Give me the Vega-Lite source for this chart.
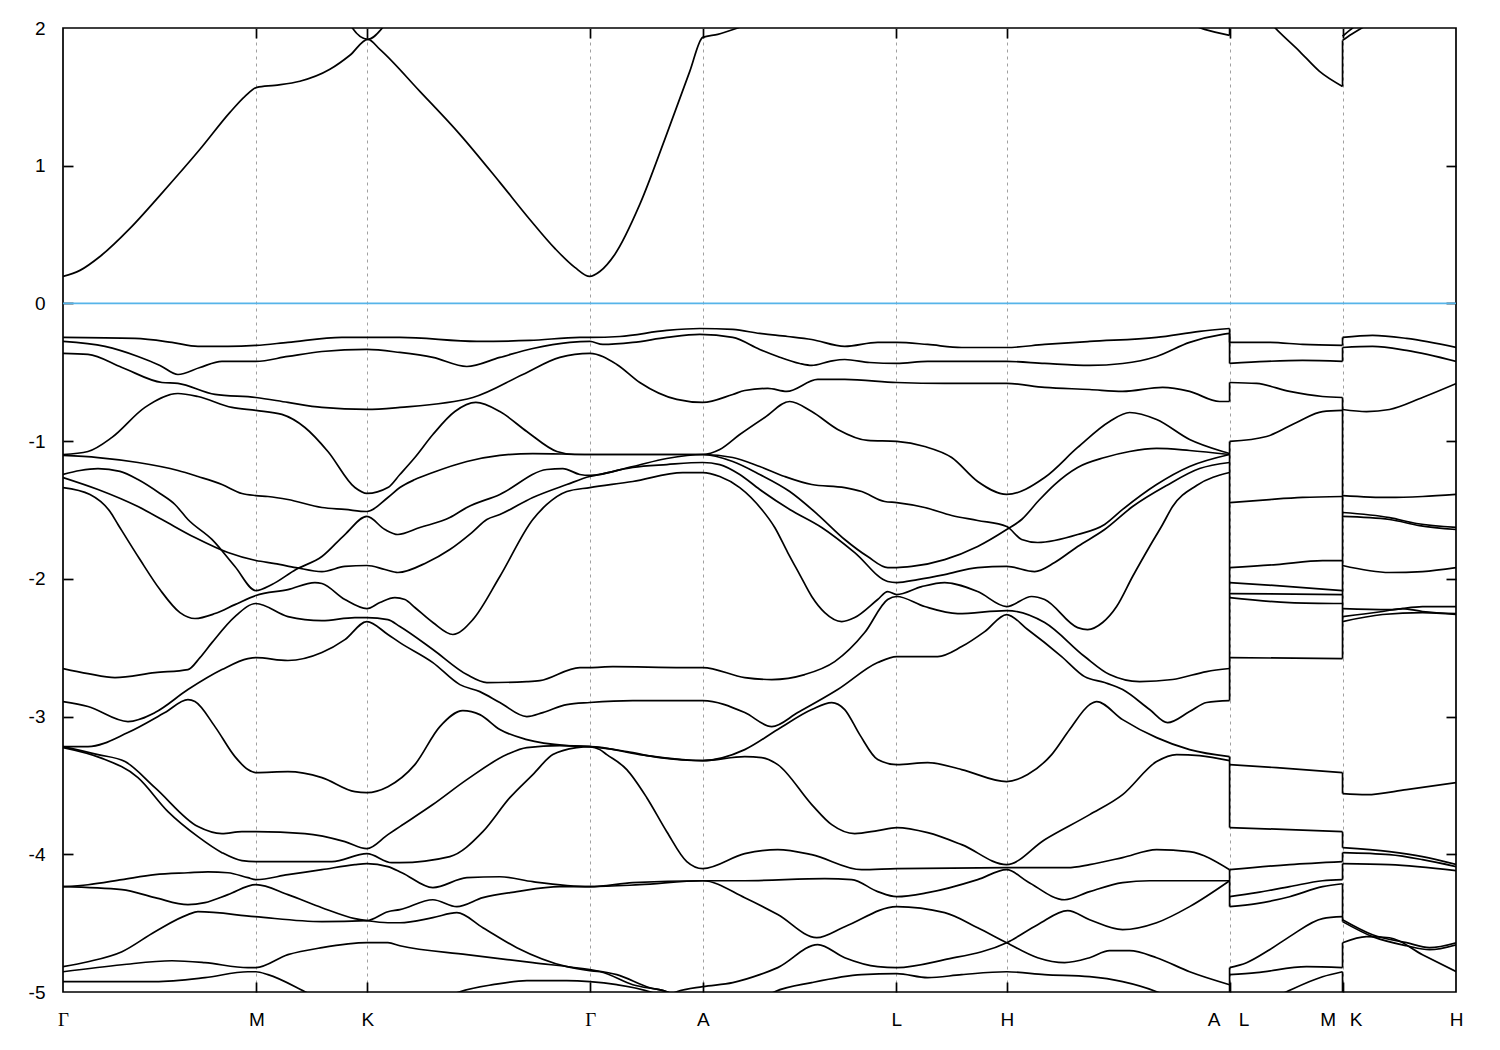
{
"$schema":"https://vega.github.io/schema/vega-lite/v6.json",
"width":1393,"height":964,
"autosize":{"type":"none"},
"padding":{"left":63,"top":28,"right":44,"bottom":58},
"background":"white",
"config":{"view":{"stroke":"#000000","strokeWidth":1.7}},
"datasets":{
"bands":[
{"b":"c1","k":0,"e":0.196},{"b":"c1","k":0.017,"e":0.240},{"b":"c1","k":0.037,"e":0.341},{"b":"c1","k":0.067,"e":0.545},{"b":"c1","k":0.097,"e":0.785},{"b":"c1","k":0.137,"e":1.119},{"b":"c1","k":0.167,"e":1.387},{"b":"c1","k":0.182,"e":1.504},{"b":"c1","k":0.194,"e":1.569},{"b":"c1","k":0.212,"e":1.584},{"b":"c1","k":0.237,"e":1.613},{"b":"c1","k":0.267,"e":1.700},{"b":"c1","k":0.287,"e":1.802},{"b":"c1","k":0.305,"e":1.918},{"b":"c1","k":0.317,"e":1.845},{"b":"c1","k":0.357,"e":1.540},{"b":"c1","k":0.397,"e":1.228},{"b":"c1","k":0.437,"e":0.879},{"b":"c1","k":0.467,"e":0.610},{"b":"c1","k":0.492,"e":0.400},{"b":"c1","k":0.512,"e":0.262},{"b":"c1","k":0.527,"e":0.196},{"b":"c1","k":0.537,"e":0.232},{"b":"c1","k":0.552,"e":0.356},{"b":"c1","k":0.577,"e":0.719},{"b":"c1","k":0.602,"e":1.191},{"b":"c1","k":0.627,"e":1.685},{"b":"c1","k":0.640,"e":1.932},{"b":"c1","k":0.655,"e":1.954},{"b":"c1","k":0.677,"e":2.005},{"b":"c1","k":0.737,"e":2.17},{"b":"c1","k":0.837,"e":2.35},{"b":"c1","k":0.937,"e":2.32},{"b":"c1","k":1.037,"e":2.21},{"b":"c1","k":1.117,"e":2.06},{"b":"c1","k":1.142,"e":1.99},{"b":"c1","k":1.167,"e":1.947},
{"b":"c2","k":0.282,"e":2.099},{"b":"c2","k":0.289,"e":2.005},{"b":"c2","k":0.305,"e":1.918},{"b":"c2","k":0.320,"e":2.005},{"b":"c2","k":0.329,"e":2.099},
{"b":"c3","k":1.167,"e":2.317},{"b":"c3","k":1.192,"e":2.172},{"b":"c3","k":1.212,"e":2.005},{"b":"c3","k":1.237,"e":1.831},{"b":"c3","k":1.257,"e":1.685},{"b":"c3","k":1.280,"e":1.576},
{"b":"c4","k":1.280,"e":1.910},{"b":"c4","k":1.289,"e":1.954},{"b":"c4","k":1.302,"e":2.012},{"b":"c4","k":1.327,"e":2.136},
{"b":"c5","k":1.280,"e":1.940},{"b":"c5","k":1.287,"e":1.983},{"b":"c5","k":1.295,"e":2.027},{"b":"c5","k":1.317,"e":2.136},
{"b":"g1","k":0,"e":-0.247},{"b":"g1","k":0.072,"e":-0.254},{"b":"g1","k":0.109,"e":-0.283},{"b":"g1","k":0.135,"e":-0.312},{"b":"g1","k":0.165,"e":-0.312},{"b":"g1","k":0.193,"e":-0.305},{"b":"g1","k":0.225,"e":-0.283},{"b":"g1","k":0.279,"e":-0.247},{"b":"g1","k":0.304,"e":-0.247},{"b":"g1","k":0.337,"e":-0.247},{"b":"g1","k":0.414,"e":-0.276},{"b":"g1","k":0.467,"e":-0.269},{"b":"g1","k":0.517,"e":-0.247},{"b":"g1","k":0.527,"e":-0.247},{"b":"g1","k":0.557,"e":-0.240},{"b":"g1","k":0.604,"e":-0.196},{"b":"g1","k":0.637,"e":-0.182},{"b":"g1","k":0.670,"e":-0.189},{"b":"g1","k":0.697,"e":-0.218},{"b":"g1","k":0.725,"e":-0.240},{"b":"g1","k":0.749,"e":-0.262},{"b":"g1","k":0.782,"e":-0.312},{"b":"g1","k":0.815,"e":-0.283},{"b":"g1","k":0.834,"e":-0.283},{"b":"g1","k":0.865,"e":-0.298},{"b":"g1","k":0.899,"e":-0.320},{"b":"g1","k":0.944,"e":-0.320},{"b":"g1","k":0.982,"e":-0.298},{"b":"g1","k":1.027,"e":-0.276},{"b":"g1","k":1.094,"e":-0.247},{"b":"g1","k":1.137,"e":-0.203},{"b":"g1","k":1.167,"e":-0.182},
{"b":"g2","k":0,"e":-0.276},{"b":"g2","k":0.042,"e":-0.312},{"b":"g2","k":0.075,"e":-0.385},{"b":"g2","k":0.097,"e":-0.450},{"b":"g2","k":0.115,"e":-0.516},{"b":"g2","k":0.137,"e":-0.465},{"b":"g2","k":0.159,"e":-0.421},{"b":"g2","k":0.193,"e":-0.421},{"b":"g2","k":0.225,"e":-0.385},{"b":"g2","k":0.259,"e":-0.349},{"b":"g2","k":0.304,"e":-0.334},{"b":"g2","k":0.337,"e":-0.356},{"b":"g2","k":0.370,"e":-0.392},{"b":"g2","k":0.404,"e":-0.458},{"b":"g2","k":0.437,"e":-0.392},{"b":"g2","k":0.470,"e":-0.327},{"b":"g2","k":0.507,"e":-0.283},{"b":"g2","k":0.527,"e":-0.276},{"b":"g2","k":0.540,"e":-0.298},{"b":"g2","k":0.570,"e":-0.283},{"b":"g2","k":0.604,"e":-0.247},{"b":"g2","k":0.637,"e":-0.225},{"b":"g2","k":0.670,"e":-0.247},{"b":"g2","k":0.697,"e":-0.334},{"b":"g2","k":0.715,"e":-0.385},{"b":"g2","k":0.737,"e":-0.436},{"b":"g2","k":0.749,"e":-0.450},{"b":"g2","k":0.767,"e":-0.421},{"b":"g2","k":0.782,"e":-0.407},{"b":"g2","k":0.807,"e":-0.429},{"b":"g2","k":0.834,"e":-0.436},{"b":"g2","k":0.865,"e":-0.421},{"b":"g2","k":0.944,"e":-0.421},{"b":"g2","k":0.982,"e":-0.436},{"b":"g2","k":1.027,"e":-0.450},{"b":"g2","k":1.060,"e":-0.436},{"b":"g2","k":1.094,"e":-0.385},{"b":"g2","k":1.127,"e":-0.283},{"b":"g2","k":1.160,"e":-0.225},{"b":"g2","k":1.167,"e":-0.218},
{"b":"g3","k":0,"e":-0.363},{"b":"g3","k":0.025,"e":-0.370},{"b":"g3","k":0.059,"e":-0.465},{"b":"g3","k":0.099,"e":-0.574},{"b":"g3","k":0.115,"e":-0.581},{"b":"g3","k":0.152,"e":-0.661},{"b":"g3","k":0.193,"e":-0.683},{"b":"g3","k":0.225,"e":-0.719},{"b":"g3","k":0.259,"e":-0.755},{"b":"g3","k":0.304,"e":-0.770},{"b":"g3","k":0.337,"e":-0.755},{"b":"g3","k":0.410,"e":-0.683},{"b":"g3","k":0.460,"e":-0.516},{"b":"g3","k":0.497,"e":-0.392},{"b":"g3","k":0.527,"e":-0.363},{"b":"g3","k":0.554,"e":-0.443},{"b":"g3","k":0.577,"e":-0.574},{"b":"g3","k":0.614,"e":-0.697},{"b":"g3","k":0.640,"e":-0.719},{"b":"g3","k":0.670,"e":-0.661},{"b":"g3","k":0.682,"e":-0.632},{"b":"g3","k":0.705,"e":-0.617},{"b":"g3","k":0.724,"e":-0.639},{"b":"g3","k":0.755,"e":-0.552},{"b":"g3","k":0.782,"e":-0.552},{"b":"g3","k":0.834,"e":-0.574},{"b":"g3","k":0.882,"e":-0.581},{"b":"g3","k":0.944,"e":-0.581},{"b":"g3","k":0.982,"e":-0.610},{"b":"g3","k":1.027,"e":-0.625},{"b":"g3","k":1.060,"e":-0.639},{"b":"g3","k":1.100,"e":-0.610},{"b":"g3","k":1.127,"e":-0.639},{"b":"g3","k":1.157,"e":-0.712},{"b":"g3","k":1.167,"e":-0.712},
{"b":"g4","k":0,"e":-1.097},{"b":"g4","k":0.025,"e":-1.075},{"b":"g4","k":0.049,"e":-0.973},{"b":"g4","k":0.082,"e":-0.755},{"b":"g4","k":0.115,"e":-0.654},{"b":"g4","k":0.135,"e":-0.676},{"b":"g4","k":0.169,"e":-0.755},{"b":"g4","k":0.193,"e":-0.777},{"b":"g4","k":0.219,"e":-0.806},{"b":"g4","k":0.242,"e":-0.901},{"b":"g4","k":0.265,"e":-1.075},{"b":"g4","k":0.292,"e":-1.337},{"b":"g4","k":0.304,"e":-1.380},{"b":"g4","k":0.325,"e":-1.337},{"b":"g4","k":0.337,"e":-1.242},{"b":"g4","k":0.352,"e":-1.119},{"b":"g4","k":0.370,"e":-0.952},{"b":"g4","k":0.392,"e":-0.785},{"b":"g4","k":0.413,"e":-0.719},{"b":"g4","k":0.437,"e":-0.785},{"b":"g4","k":0.464,"e":-0.930},{"b":"g4","k":0.494,"e":-1.075},{"b":"g4","k":0.512,"e":-1.097},{"b":"g4","k":0.527,"e":-1.097},{"b":"g4","k":0.587,"e":-1.097},{"b":"g4","k":0.640,"e":-1.097},{"b":"g4","k":0.657,"e":-1.061},{"b":"g4","k":0.677,"e":-0.952},{"b":"g4","k":0.702,"e":-0.828},{"b":"g4","k":0.727,"e":-0.712},{"b":"g4","k":0.749,"e":-0.785},{"b":"g4","k":0.775,"e":-0.915},{"b":"g4","k":0.805,"e":-0.995},{"b":"g4","k":0.834,"e":-1.002},{"b":"g4","k":0.862,"e":-1.039},{"b":"g4","k":0.889,"e":-1.119},{"b":"g4","k":0.915,"e":-1.293},{"b":"g4","k":0.944,"e":-1.387},{"b":"g4","k":0.982,"e":-1.264},{"b":"g4","k":1.015,"e":-1.046},{"b":"g4","k":1.047,"e":-0.857},{"b":"g4","k":1.067,"e":-0.792},{"b":"g4","k":1.094,"e":-0.843},{"b":"g4","k":1.127,"e":-0.988},{"b":"g4","k":1.160,"e":-1.075},{"b":"g4","k":1.167,"e":-1.090},
{"b":"g5","k":0,"e":-1.104},{"b":"g5","k":0.035,"e":-1.119},{"b":"g5","k":0.075,"e":-1.155},{"b":"g5","k":0.115,"e":-1.213},{"b":"g5","k":0.135,"e":-1.257},{"b":"g5","k":0.159,"e":-1.315},{"b":"g5","k":0.179,"e":-1.380},{"b":"g5","k":0.193,"e":-1.395},{"b":"g5","k":0.205,"e":-1.402},{"b":"g5","k":0.225,"e":-1.424},{"b":"g5","k":0.259,"e":-1.482},{"b":"g5","k":0.282,"e":-1.496},{"b":"g5","k":0.304,"e":-1.511},{"b":"g5","k":0.325,"e":-1.409},{"b":"g5","k":0.337,"e":-1.337},{"b":"g5","k":0.352,"e":-1.279},{"b":"g5","k":0.370,"e":-1.228},{"b":"g5","k":0.404,"e":-1.148},{"b":"g5","k":0.437,"e":-1.104},{"b":"g5","k":0.470,"e":-1.090},{"b":"g5","k":0.527,"e":-1.097},{"b":"g5","k":0.587,"e":-1.097},{"b":"g5","k":0.640,"e":-1.097},{"b":"g5","k":0.670,"e":-1.119},{"b":"g5","k":0.697,"e":-1.184},{"b":"g5","k":0.722,"e":-1.257},{"b":"g5","k":0.749,"e":-1.315},{"b":"g5","k":0.782,"e":-1.337},{"b":"g5","k":0.799,"e":-1.366},{"b":"g5","k":0.822,"e":-1.438},{"b":"g5","k":0.834,"e":-1.446},{"b":"g5","k":0.862,"e":-1.482},{"b":"g5","k":0.889,"e":-1.540},{"b":"g5","k":0.915,"e":-1.576},{"b":"g5","k":0.944,"e":-1.620},{"b":"g5","k":0.959,"e":-1.714},{"b":"g5","k":0.975,"e":-1.736},{"b":"g5","k":1.015,"e":-1.678},{"b":"g5","k":1.042,"e":-1.605},{"b":"g5","k":1.060,"e":-1.496},{"b":"g5","k":1.094,"e":-1.315},{"b":"g5","k":1.127,"e":-1.184},{"b":"g5","k":1.167,"e":-1.097},
{"b":"g6","k":0,"e":-1.242},{"b":"g6","k":0.017,"e":-1.213},{"b":"g6","k":0.035,"e":-1.199},{"b":"g6","k":0.057,"e":-1.220},{"b":"g6","k":0.075,"e":-1.279},{"b":"g6","k":0.097,"e":-1.380},{"b":"g6","k":0.112,"e":-1.460},{"b":"g6","k":0.125,"e":-1.569},{"b":"g6","k":0.149,"e":-1.714},{"b":"g6","k":0.172,"e":-1.910},{"b":"g6","k":0.193,"e":-2.085},{"b":"g6","k":0.209,"e":-2.041},{"b":"g6","k":0.233,"e":-1.932},{"b":"g6","k":0.259,"e":-1.838},{"b":"g6","k":0.282,"e":-1.678},{"b":"g6","k":0.304,"e":-1.547},{"b":"g6","k":0.322,"e":-1.642},{"b":"g6","k":0.335,"e":-1.678},{"b":"g6","k":0.357,"e":-1.627},{"b":"g6","k":0.387,"e":-1.555},{"b":"g6","k":0.404,"e":-1.482},{"b":"g6","k":0.437,"e":-1.387},{"b":"g6","k":0.484,"e":-1.206},{"b":"g6","k":0.500,"e":-1.199},{"b":"g6","k":0.517,"e":-1.242},{"b":"g6","k":0.527,"e":-1.249},{"b":"g6","k":0.570,"e":-1.184},{"b":"g6","k":0.604,"e":-1.126},{"b":"g6","k":0.640,"e":-1.097},{"b":"g6","k":0.670,"e":-1.148},{"b":"g6","k":0.697,"e":-1.242},{"b":"g6","k":0.727,"e":-1.366},{"b":"g6","k":0.755,"e":-1.533},{"b":"g6","k":0.782,"e":-1.714},{"b":"g6","k":0.805,"e":-1.838},{"b":"g6","k":0.825,"e":-1.918},{"b":"g6","k":0.834,"e":-1.918},{"b":"g6","k":0.849,"e":-1.910},{"b":"g6","k":0.882,"e":-1.860},{"b":"g6","k":0.915,"e":-1.765},{"b":"g6","k":0.944,"e":-1.642},{"b":"g6","k":0.959,"e":-1.569},{"b":"g6","k":0.977,"e":-1.424},{"b":"g6","k":0.992,"e":-1.315},{"b":"g6","k":1.015,"e":-1.191},{"b":"g6","k":1.042,"e":-1.119},{"b":"g6","k":1.067,"e":-1.075},{"b":"g6","k":1.094,"e":-1.053},{"b":"g6","k":1.127,"e":-1.068},{"b":"g6","k":1.167,"e":-1.097},
{"b":"g7","k":0,"e":-1.264},{"b":"g7","k":0.035,"e":-1.351},{"b":"g7","k":0.075,"e":-1.475},{"b":"g7","k":0.099,"e":-1.569},{"b":"g7","k":0.132,"e":-1.700},{"b":"g7","k":0.165,"e":-1.809},{"b":"g7","k":0.193,"e":-1.867},{"b":"g7","k":0.212,"e":-1.889},{"b":"g7","k":0.233,"e":-1.918},{"b":"g7","k":0.259,"e":-1.947},{"b":"g7","k":0.282,"e":-1.910},{"b":"g7","k":0.304,"e":-1.903},{"b":"g7","k":0.322,"e":-1.932},{"b":"g7","k":0.335,"e":-1.954},{"b":"g7","k":0.364,"e":-1.881},{"b":"g7","k":0.387,"e":-1.787},{"b":"g7","k":0.409,"e":-1.664},{"b":"g7","k":0.424,"e":-1.569},{"b":"g7","k":0.437,"e":-1.533},{"b":"g7","k":0.470,"e":-1.409},{"b":"g7","k":0.504,"e":-1.315},{"b":"g7","k":0.527,"e":-1.257},{"b":"g7","k":0.537,"e":-1.242},{"b":"g7","k":0.570,"e":-1.191},{"b":"g7","k":0.604,"e":-1.170},{"b":"g7","k":0.640,"e":-1.155},{"b":"g7","k":0.657,"e":-1.170},{"b":"g7","k":0.677,"e":-1.242},{"b":"g7","k":0.697,"e":-1.351},{"b":"g7","k":0.727,"e":-1.496},{"b":"g7","k":0.759,"e":-1.627},{"b":"g7","k":0.792,"e":-1.809},{"b":"g7","k":0.825,"e":-2.019},{"b":"g7","k":0.834,"e":-2.027},{"b":"g7","k":0.855,"e":-2.005},{"b":"g7","k":0.882,"e":-1.969},{"b":"g7","k":0.915,"e":-1.918},{"b":"g7","k":0.944,"e":-1.910},{"b":"g7","k":0.972,"e":-1.947},{"b":"g7","k":0.992,"e":-1.881},{"b":"g7","k":1.015,"e":-1.765},{"b":"g7","k":1.042,"e":-1.642},{"b":"g7","k":1.070,"e":-1.475},{"b":"g7","k":1.104,"e":-1.322},{"b":"g7","k":1.137,"e":-1.199},{"b":"g7","k":1.167,"e":-1.155},
{"b":"g8","k":0,"e":-1.337},{"b":"g8","k":0.027,"e":-1.387},{"b":"g8","k":0.047,"e":-1.511},{"b":"g8","k":0.055,"e":-1.605},{"b":"g8","k":0.077,"e":-1.860},{"b":"g8","k":0.097,"e":-2.078},{"b":"g8","k":0.117,"e":-2.245},{"b":"g8","k":0.132,"e":-2.288},{"b":"g8","k":0.152,"e":-2.252},{"b":"g8","k":0.172,"e":-2.187},{"b":"g8","k":0.193,"e":-2.121},{"b":"g8","k":0.225,"e":-2.078},{"b":"g8","k":0.252,"e":-2.027},{"b":"g8","k":0.259,"e":-2.034},{"b":"g8","k":0.282,"e":-2.150},{"b":"g8","k":0.304,"e":-2.216},{"b":"g8","k":0.317,"e":-2.172},{"b":"g8","k":0.332,"e":-2.136},{"b":"g8","k":0.342,"e":-2.150},{"b":"g8","k":0.352,"e":-2.208},{"b":"g8","k":0.370,"e":-2.317},{"b":"g8","k":0.390,"e":-2.404},{"b":"g8","k":0.410,"e":-2.296},{"b":"g8","k":0.437,"e":-1.983},{"b":"g8","k":0.470,"e":-1.569},{"b":"g8","k":0.484,"e":-1.460},{"b":"g8","k":0.504,"e":-1.366},{"b":"g8","k":0.527,"e":-1.337},{"b":"g8","k":0.570,"e":-1.293},{"b":"g8","k":0.620,"e":-1.228},{"b":"g8","k":0.640,"e":-1.228},{"b":"g8","k":0.657,"e":-1.257},{"b":"g8","k":0.677,"e":-1.337},{"b":"g8","k":0.699,"e":-1.496},{"b":"g8","k":0.712,"e":-1.627},{"b":"g8","k":0.725,"e":-1.809},{"b":"g8","k":0.737,"e":-1.969},{"b":"g8","k":0.749,"e":-2.128},{"b":"g8","k":0.762,"e":-2.245},{"b":"g8","k":0.779,"e":-2.310},{"b":"g8","k":0.792,"e":-2.281},{"b":"g8","k":0.815,"e":-2.150},{"b":"g8","k":0.825,"e":-2.092},{"b":"g8","k":0.834,"e":-2.114},{"b":"g8","k":0.859,"e":-2.056},{"b":"g8","k":0.882,"e":-2.027},{"b":"g8","k":0.915,"e":-2.092},{"b":"g8","k":0.944,"e":-2.201},{"b":"g8","k":0.969,"e":-2.128},{"b":"g8","k":0.982,"e":-2.150},{"b":"g8","k":1.015,"e":-2.354},{"b":"g8","k":1.025,"e":-2.368},{"b":"g8","k":1.040,"e":-2.317},{"b":"g8","k":1.054,"e":-2.201},{"b":"g8","k":1.070,"e":-1.983},{"b":"g8","k":1.087,"e":-1.765},{"b":"g8","k":1.100,"e":-1.605},{"b":"g8","k":1.110,"e":-1.475},{"b":"g8","k":1.134,"e":-1.322},{"b":"g8","k":1.167,"e":-1.228},
{"b":"g9","k":0,"e":-2.651},{"b":"g9","k":0.025,"e":-2.688},{"b":"g9","k":0.052,"e":-2.717},{"b":"g9","k":0.092,"e":-2.681},{"b":"g9","k":0.125,"e":-2.659},{"b":"g9","k":0.137,"e":-2.572},{"b":"g9","k":0.149,"e":-2.463},{"b":"g9","k":0.172,"e":-2.274},{"b":"g9","k":0.193,"e":-2.179},{"b":"g9","k":0.225,"e":-2.274},{"b":"g9","k":0.259,"e":-2.303},{"b":"g9","k":0.292,"e":-2.281},{"b":"g9","k":0.304,"e":-2.281},{"b":"g9","k":0.325,"e":-2.296},{"b":"g9","k":0.337,"e":-2.346},{"b":"g9","k":0.370,"e":-2.513},{"b":"g9","k":0.404,"e":-2.695},{"b":"g9","k":0.424,"e":-2.753},{"b":"g9","k":0.464,"e":-2.746},{"b":"g9","k":0.477,"e":-2.739},{"b":"g9","k":0.517,"e":-2.644},{"b":"g9","k":0.527,"e":-2.644},{"b":"g9","k":0.550,"e":-2.637},{"b":"g9","k":0.620,"e":-2.644},{"b":"g9","k":0.640,"e":-2.644},{"b":"g9","k":0.682,"e":-2.717},{"b":"g9","k":0.709,"e":-2.731},{"b":"g9","k":0.742,"e":-2.695},{"b":"g9","k":0.772,"e":-2.601},{"b":"g9","k":0.802,"e":-2.390},{"b":"g9","k":0.825,"e":-2.150},{"b":"g9","k":0.834,"e":-2.128},{"b":"g9","k":0.862,"e":-2.201},{"b":"g9","k":0.895,"e":-2.252},{"b":"g9","k":0.944,"e":-2.230},{"b":"g9","k":0.982,"e":-2.317},{"b":"g9","k":1.022,"e":-2.564},{"b":"g9","k":1.047,"e":-2.695},{"b":"g9","k":1.077,"e":-2.746},{"b":"g9","k":1.110,"e":-2.731},{"b":"g9","k":1.144,"e":-2.673},{"b":"g9","k":1.167,"e":-2.651},
{"b":"g10","k":0,"e":-2.891},{"b":"g10","k":0.025,"e":-2.927},{"b":"g10","k":0.065,"e":-3.036},{"b":"g10","k":0.092,"e":-2.971},{"b":"g10","k":0.125,"e":-2.804},{"b":"g10","k":0.159,"e":-2.659},{"b":"g10","k":0.185,"e":-2.579},{"b":"g10","k":0.193,"e":-2.572},{"b":"g10","k":0.225,"e":-2.593},{"b":"g10","k":0.259,"e":-2.535},{"b":"g10","k":0.282,"e":-2.441},{"b":"g10","k":0.304,"e":-2.310},{"b":"g10","k":0.325,"e":-2.404},{"b":"g10","k":0.337,"e":-2.463},{"b":"g10","k":0.370,"e":-2.608},{"b":"g10","k":0.397,"e":-2.768},{"b":"g10","k":0.417,"e":-2.819},{"b":"g10","k":0.437,"e":-2.898},{"b":"g10","k":0.464,"e":-3.000},{"b":"g10","k":0.480,"e":-2.971},{"b":"g10","k":0.504,"e":-2.913},{"b":"g10","k":0.527,"e":-2.898},{"b":"g10","k":0.570,"e":-2.884},{"b":"g10","k":0.640,"e":-2.884},{"b":"g10","k":0.682,"e":-2.971},{"b":"g10","k":0.709,"e":-3.073},{"b":"g10","k":0.735,"e":-2.971},{"b":"g10","k":0.775,"e":-2.804},{"b":"g10","k":0.815,"e":-2.608},{"b":"g10","k":0.834,"e":-2.564},{"b":"g10","k":0.875,"e":-2.564},{"b":"g10","k":0.899,"e":-2.492},{"b":"g10","k":0.922,"e":-2.383},{"b":"g10","k":0.944,"e":-2.259},{"b":"g10","k":0.965,"e":-2.368},{"b":"g10","k":0.999,"e":-2.564},{"b":"g10","k":1.022,"e":-2.710},{"b":"g10","k":1.042,"e":-2.753},{"b":"g10","k":1.060,"e":-2.804},{"b":"g10","k":1.087,"e":-2.949},{"b":"g10","k":1.105,"e":-3.044},{"b":"g10","k":1.127,"e":-2.964},{"b":"g10","k":1.144,"e":-2.898},{"b":"g10","k":1.167,"e":-2.884},
{"b":"g11","k":0,"e":-3.218},{"b":"g11","k":0.025,"e":-3.218},{"b":"g11","k":0.065,"e":-3.116},{"b":"g11","k":0.102,"e":-2.971},{"b":"g11","k":0.125,"e":-2.877},{"b":"g11","k":0.132,"e":-2.891},{"b":"g11","k":0.152,"e":-3.073},{"b":"g11","k":0.172,"e":-3.291},{"b":"g11","k":0.185,"e":-3.385},{"b":"g11","k":0.193,"e":-3.407},{"b":"g11","k":0.225,"e":-3.400},{"b":"g11","k":0.259,"e":-3.443},{"b":"g11","k":0.292,"e":-3.545},{"b":"g11","k":0.304,"e":-3.552},{"b":"g11","k":0.325,"e":-3.509},{"b":"g11","k":0.352,"e":-3.349},{"b":"g11","k":0.377,"e":-3.073},{"b":"g11","k":0.400,"e":-2.957},{"b":"g11","k":0.417,"e":-2.986},{"b":"g11","k":0.437,"e":-3.094},{"b":"g11","k":0.464,"e":-3.167},{"b":"g11","k":0.504,"e":-3.211},{"b":"g11","k":0.527,"e":-3.218},{"b":"g11","k":0.537,"e":-3.240},{"b":"g11","k":0.544,"e":-3.276},{"b":"g11","k":0.564,"e":-3.385},{"b":"g11","k":0.584,"e":-3.589},{"b":"g11","k":0.604,"e":-3.836},{"b":"g11","k":0.624,"e":-4.053},{"b":"g11","k":0.640,"e":-4.104},{"b":"g11","k":0.682,"e":-3.995},{"b":"g11","k":0.715,"e":-3.966},{"b":"g11","k":0.749,"e":-4.003},{"b":"g11","k":0.799,"e":-4.112},{"b":"g11","k":0.834,"e":-4.104},{"b":"g11","k":0.944,"e":-4.097},{"b":"g11","k":1.005,"e":-4.097},{"b":"g11","k":1.027,"e":-4.075},{"b":"g11","k":1.060,"e":-4.024},{"b":"g11","k":1.094,"e":-3.966},{"b":"g11","k":1.127,"e":-3.981},{"b":"g11","k":1.167,"e":-4.112},
{"b":"g12","k":0,"e":-3.218},{"b":"g12","k":0.035,"e":-3.276},{"b":"g12","k":0.062,"e":-3.327},{"b":"g12","k":0.092,"e":-3.516},{"b":"g12","k":0.135,"e":-3.799},{"b":"g12","k":0.159,"e":-3.850},{"b":"g12","k":0.179,"e":-3.836},{"b":"g12","k":0.193,"e":-3.836},{"b":"g12","k":0.242,"e":-3.850},{"b":"g12","k":0.282,"e":-3.908},{"b":"g12","k":0.304,"e":-3.959},{"b":"g12","k":0.325,"e":-3.857},{"b":"g12","k":0.337,"e":-3.799},{"b":"g12","k":0.370,"e":-3.639},{"b":"g12","k":0.404,"e":-3.458},{"b":"g12","k":0.444,"e":-3.276},{"b":"g12","k":0.464,"e":-3.225},{"b":"g12","k":0.497,"e":-3.211},{"b":"g12","k":0.527,"e":-3.218},{"b":"g12","k":0.564,"e":-3.254},{"b":"g12","k":0.597,"e":-3.298},{"b":"g12","k":0.640,"e":-3.320},{"b":"g12","k":0.682,"e":-3.240},{"b":"g12","k":0.715,"e":-3.094},{"b":"g12","k":0.749,"e":-2.949},{"b":"g12","k":0.769,"e":-2.898},{"b":"g12","k":0.782,"e":-2.949},{"b":"g12","k":0.797,"e":-3.131},{"b":"g12","k":0.815,"e":-3.312},{"b":"g12","k":0.834,"e":-3.349},{"b":"g12","k":0.865,"e":-3.334},{"b":"g12","k":0.899,"e":-3.385},{"b":"g12","k":0.944,"e":-3.472},{"b":"g12","k":0.965,"e":-3.421},{"b":"g12","k":0.989,"e":-3.276},{"b":"g12","k":1.007,"e":-3.094},{"b":"g12","k":1.027,"e":-2.913},{"b":"g12","k":1.034,"e":-2.891},{"b":"g12","k":1.060,"e":-3.022},{"b":"g12","k":1.094,"e":-3.153},{"b":"g12","k":1.127,"e":-3.240},{"b":"g12","k":1.167,"e":-3.291},
{"b":"g13","k":0,"e":-3.225},{"b":"g13","k":0.037,"e":-3.298},{"b":"g13","k":0.075,"e":-3.443},{"b":"g13","k":0.105,"e":-3.690},{"b":"g13","k":0.135,"e":-3.872},{"b":"g13","k":0.159,"e":-3.988},{"b":"g13","k":0.179,"e":-4.046},{"b":"g13","k":0.193,"e":-4.053},{"b":"g13","k":0.269,"e":-4.053},{"b":"g13","k":0.304,"e":-3.995},{"b":"g13","k":0.329,"e":-4.061},{"b":"g13","k":0.337,"e":-4.061},{"b":"g13","k":0.387,"e":-4.017},{"b":"g13","k":0.420,"e":-3.836},{"b":"g13","k":0.447,"e":-3.589},{"b":"g13","k":0.470,"e":-3.421},{"b":"g13","k":0.490,"e":-3.276},{"b":"g13","k":0.514,"e":-3.225},{"b":"g13","k":0.527,"e":-3.218},{"b":"g13","k":0.577,"e":-3.276},{"b":"g13","k":0.620,"e":-3.312},{"b":"g13","k":0.640,"e":-3.320},{"b":"g13","k":0.682,"e":-3.291},{"b":"g13","k":0.699,"e":-3.298},{"b":"g13","k":0.715,"e":-3.349},{"b":"g13","k":0.749,"e":-3.639},{"b":"g13","k":0.769,"e":-3.785},{"b":"g13","k":0.792,"e":-3.850},{"b":"g13","k":0.815,"e":-3.828},{"b":"g13","k":0.834,"e":-3.806},{"b":"g13","k":0.865,"e":-3.843},{"b":"g13","k":0.899,"e":-3.930},{"b":"g13","k":0.944,"e":-4.075},{"b":"g13","k":0.982,"e":-3.894},{"b":"g13","k":1.027,"e":-3.712},{"b":"g13","k":1.060,"e":-3.567},{"b":"g13","k":1.094,"e":-3.327},{"b":"g13","k":1.114,"e":-3.276},{"b":"g13","k":1.137,"e":-3.283},{"b":"g13","k":1.167,"e":-3.320},
{"b":"g14","k":0,"e":-4.235},{"b":"g14","k":0.025,"e":-4.221},{"b":"g14","k":0.059,"e":-4.184},{"b":"g14","k":0.092,"e":-4.148},{"b":"g14","k":0.125,"e":-4.134},{"b":"g14","k":0.145,"e":-4.127},{"b":"g14","k":0.165,"e":-4.134},{"b":"g14","k":0.185,"e":-4.170},{"b":"g14","k":0.193,"e":-4.184},{"b":"g14","k":0.225,"e":-4.148},{"b":"g14","k":0.259,"e":-4.112},{"b":"g14","k":0.292,"e":-4.075},{"b":"g14","k":0.304,"e":-4.068},{"b":"g14","k":0.325,"e":-4.090},{"b":"g14","k":0.339,"e":-4.134},{"b":"g14","k":0.370,"e":-4.242},{"b":"g14","k":0.404,"e":-4.170},{"b":"g14","k":0.437,"e":-4.163},{"b":"g14","k":0.470,"e":-4.199},{"b":"g14","k":0.527,"e":-4.235},{"b":"g14","k":0.570,"e":-4.206},{"b":"g14","k":0.640,"e":-4.192},{"b":"g14","k":0.682,"e":-4.192},{"b":"g14","k":0.762,"e":-4.177},{"b":"g14","k":0.789,"e":-4.184},{"b":"g14","k":0.815,"e":-4.271},{"b":"g14","k":0.834,"e":-4.308},{"b":"g14","k":0.865,"e":-4.279},{"b":"g14","k":0.915,"e":-4.184},{"b":"g14","k":0.944,"e":-4.112},{"b":"g14","k":0.965,"e":-4.199},{"b":"g14","k":1.002,"e":-4.330},{"b":"g14","k":1.027,"e":-4.271},{"b":"g14","k":1.060,"e":-4.206},{"b":"g14","k":1.087,"e":-4.192},{"b":"g14","k":1.167,"e":-4.192},
{"b":"g15","k":0,"e":-4.235},{"b":"g15","k":0.059,"e":-4.257},{"b":"g15","k":0.092,"e":-4.315},{"b":"g15","k":0.125,"e":-4.366},{"b":"g15","k":0.142,"e":-4.351},{"b":"g15","k":0.165,"e":-4.293},{"b":"g15","k":0.193,"e":-4.221},{"b":"g15","k":0.225,"e":-4.293},{"b":"g15","k":0.259,"e":-4.388},{"b":"g15","k":0.292,"e":-4.467},{"b":"g15","k":0.304,"e":-4.482},{"b":"g15","k":0.325,"e":-4.497},{"b":"g15","k":0.337,"e":-4.497},{"b":"g15","k":0.370,"e":-4.460},{"b":"g15","k":0.394,"e":-4.424},{"b":"g15","k":0.420,"e":-4.533},{"b":"g15","k":0.454,"e":-4.678},{"b":"g15","k":0.504,"e":-4.816},{"b":"g15","k":0.527,"e":-4.845},{"b":"g15","k":0.537,"e":-4.853},{"b":"g15","k":0.570,"e":-4.947},{"b":"g15","k":0.604,"e":-4.998},{"b":"g15","k":0.627,"e":-5.070},
{"b":"g16","k":0,"e":-4.816},{"b":"g16","k":0.025,"e":-4.780},{"b":"g16","k":0.059,"e":-4.707},{"b":"g16","k":0.092,"e":-4.562},{"b":"g16","k":0.125,"e":-4.438},{"b":"g16","k":0.135,"e":-4.417},{"b":"g16","k":0.192,"e":-4.453},{"b":"g16","k":0.259,"e":-4.489},{"b":"g16","k":0.304,"e":-4.482},{"b":"g16","k":0.325,"e":-4.417},{"b":"g16","k":0.337,"e":-4.402},{"b":"g16","k":0.370,"e":-4.330},{"b":"g16","k":0.394,"e":-4.380},{"b":"g16","k":0.420,"e":-4.315},{"b":"g16","k":0.454,"e":-4.271},{"b":"g16","k":0.497,"e":-4.235},{"b":"g16","k":0.527,"e":-4.235},{"b":"g16","k":0.577,"e":-4.221},{"b":"g16","k":0.640,"e":-4.192},{"b":"g16","k":0.682,"e":-4.315},{"b":"g16","k":0.715,"e":-4.438},{"b":"g16","k":0.754,"e":-4.605},{"b":"g16","k":0.782,"e":-4.526},{"b":"g16","k":0.834,"e":-4.380},{"b":"g16","k":0.882,"e":-4.424},{"b":"g16","k":0.915,"e":-4.533},{"b":"g16","k":0.944,"e":-4.642},{"b":"g16","k":0.975,"e":-4.751},{"b":"g16","k":1.002,"e":-4.787},{"b":"g16","k":1.027,"e":-4.751},{"b":"g16","k":1.047,"e":-4.700},{"b":"g16","k":1.067,"e":-4.700},{"b":"g16","k":1.094,"e":-4.751},{"b":"g16","k":1.127,"e":-4.853},{"b":"g16","k":1.167,"e":-4.947},
{"b":"g17","k":0,"e":-4.853},{"b":"g17","k":0.059,"e":-4.802},{"b":"g17","k":0.109,"e":-4.773},{"b":"g17","k":0.142,"e":-4.787},{"b":"g17","k":0.185,"e":-4.823},{"b":"g17","k":0.193,"e":-4.823},{"b":"g17","k":0.225,"e":-4.729},{"b":"g17","k":0.259,"e":-4.678},{"b":"g17","k":0.304,"e":-4.642},{"b":"g17","k":0.325,"e":-4.642},{"b":"g17","k":0.337,"e":-4.664},{"b":"g17","k":0.404,"e":-4.729},{"b":"g17","k":0.470,"e":-4.787},{"b":"g17","k":0.527,"e":-4.838},{"b":"g17","k":0.554,"e":-4.874},{"b":"g17","k":0.587,"e":-4.969},{"b":"g17","k":0.604,"e":-4.998},{"b":"g17","k":0.617,"e":-5.056},
{"b":"g18","k":0,"e":-4.925},{"b":"g18","k":0.092,"e":-4.925},{"b":"g18","k":0.142,"e":-4.896},{"b":"g18","k":0.185,"e":-4.853},{"b":"g18","k":0.193,"e":-4.853},{"b":"g18","k":0.205,"e":-4.874},{"b":"g18","k":0.242,"e":-4.998},{"b":"g18","k":0.267,"e":-5.092},
{"b":"g18b","k":0.377,"e":-5.056},{"b":"g18b","k":0.397,"e":-4.998},{"b":"g18b","k":0.430,"e":-4.947},{"b":"g18b","k":0.464,"e":-4.918},{"b":"g18b","k":0.504,"e":-4.918},{"b":"g18b","k":0.527,"e":-4.925},{"b":"g18b","k":0.554,"e":-4.947},{"b":"g18b","k":0.587,"e":-4.998},{"b":"g18b","k":0.607,"e":-5.056},
{"b":"g19","k":0.597,"e":-5.056},{"b":"g19","k":0.614,"e":-4.998},{"b":"g19","k":0.640,"e":-4.961},{"b":"g19","k":0.670,"e":-4.932},{"b":"g19","k":0.697,"e":-4.874},{"b":"g19","k":0.715,"e":-4.823},{"b":"g19","k":0.755,"e":-4.656},{"b":"g19","k":0.782,"e":-4.751},{"b":"g19","k":0.815,"e":-4.816},{"b":"g19","k":0.834,"e":-4.823},{"b":"g19","k":0.882,"e":-4.765},{"b":"g19","k":0.944,"e":-4.642},{"b":"g19","k":0.975,"e":-4.511},{"b":"g19","k":1.005,"e":-4.409},{"b":"g19","k":1.027,"e":-4.475},{"b":"g19","k":1.060,"e":-4.547},{"b":"g19","k":1.094,"e":-4.497},{"b":"g19","k":1.127,"e":-4.380},{"b":"g19","k":1.167,"e":-4.192},
{"b":"g20","k":0.697,"e":-5.056},{"b":"g20","k":0.712,"e":-4.998},{"b":"g20","k":0.749,"e":-4.932},{"b":"g20","k":0.799,"e":-4.874},{"b":"g20","k":0.834,"e":-4.867},{"b":"g20","k":0.865,"e":-4.896},{"b":"g20","k":0.899,"e":-4.874},{"b":"g20","k":0.944,"e":-4.853},{"b":"g20","k":0.982,"e":-4.874},{"b":"g20","k":1.027,"e":-4.889},{"b":"g20","k":1.060,"e":-4.925},{"b":"g20","k":1.094,"e":-4.998},{"b":"g20","k":1.112,"e":-5.056},
{"b":"lm1","k":1.167,"e":-0.283},{"b":"lm1","k":1.207,"e":-0.283},{"b":"lm1","k":1.240,"e":-0.298},{"b":"lm1","k":1.280,"e":-0.305},
{"b":"lm2","k":1.167,"e":-0.436},{"b":"lm2","k":1.204,"e":-0.421},{"b":"lm2","k":1.240,"e":-0.414},{"b":"lm2","k":1.280,"e":-0.421},
{"b":"lm3","k":1.167,"e":-0.574},{"b":"lm3","k":1.194,"e":-0.581},{"b":"lm3","k":1.227,"e":-0.639},{"b":"lm3","k":1.260,"e":-0.676},{"b":"lm3","k":1.280,"e":-0.683},
{"b":"lm4","k":1.167,"e":-1.002},{"b":"lm4","k":1.204,"e":-0.966},{"b":"lm4","k":1.234,"e":-0.864},{"b":"lm4","k":1.260,"e":-0.785},{"b":"lm4","k":1.280,"e":-0.777},
{"b":"lm5","k":1.167,"e":-1.446},{"b":"lm5","k":1.207,"e":-1.424},{"b":"lm5","k":1.240,"e":-1.409},{"b":"lm5","k":1.280,"e":-1.402},
{"b":"lm6","k":1.167,"e":-1.918},{"b":"lm6","k":1.214,"e":-1.896},{"b":"lm6","k":1.260,"e":-1.867},{"b":"lm6","k":1.280,"e":-1.867},
{"b":"lm7","k":1.167,"e":-2.027},{"b":"lm7","k":1.214,"e":-2.049},{"b":"lm7","k":1.280,"e":-2.085},
{"b":"lm8","k":1.167,"e":-2.107},{"b":"lm8","k":1.280,"e":-2.114},
{"b":"lm9","k":1.167,"e":-2.136},{"b":"lm9","k":1.227,"e":-2.172},{"b":"lm9","k":1.280,"e":-2.179},
{"b":"lm10","k":1.167,"e":-2.572},{"b":"lm10","k":1.280,"e":-2.579},
{"b":"lm11","k":1.167,"e":-3.349},{"b":"lm11","k":1.214,"e":-3.371},{"b":"lm11","k":1.280,"e":-3.407},
{"b":"lm12","k":1.167,"e":-3.806},{"b":"lm12","k":1.227,"e":-3.821},{"b":"lm12","k":1.280,"e":-3.836},
{"b":"lm13","k":1.167,"e":-4.112},{"b":"lm13","k":1.227,"e":-4.075},{"b":"lm13","k":1.280,"e":-4.053},
{"b":"lm14","k":1.167,"e":-4.308},{"b":"lm14","k":1.194,"e":-4.279},{"b":"lm14","k":1.227,"e":-4.235},{"b":"lm14","k":1.260,"e":-4.192},{"b":"lm14","k":1.280,"e":-4.184},
{"b":"lm15","k":1.167,"e":-4.380},{"b":"lm15","k":1.194,"e":-4.358},{"b":"lm15","k":1.227,"e":-4.308},{"b":"lm15","k":1.260,"e":-4.235},{"b":"lm15","k":1.280,"e":-4.214},
{"b":"lm16","k":1.167,"e":-4.823},{"b":"lm16","k":1.184,"e":-4.787},{"b":"lm16","k":1.207,"e":-4.693},{"b":"lm16","k":1.227,"e":-4.598},{"b":"lm16","k":1.260,"e":-4.467},{"b":"lm16","k":1.280,"e":-4.453},
{"b":"lm17","k":1.167,"e":-4.874},{"b":"lm17","k":1.194,"e":-4.860},{"b":"lm17","k":1.244,"e":-4.816},{"b":"lm17","k":1.280,"e":-4.823},
{"b":"lm18","k":1.207,"e":-5.056},{"b":"lm18","k":1.224,"e":-4.998},{"b":"lm18","k":1.260,"e":-4.889},{"b":"lm18","k":1.280,"e":-4.853},
{"b":"kh1","k":1.280,"e":-0.247},{"b":"kh1","k":1.310,"e":-0.232},{"b":"kh1","k":1.344,"e":-0.254},{"b":"kh1","k":1.394,"e":-0.320},
{"b":"kh2","k":1.280,"e":-0.320},{"b":"kh2","k":1.310,"e":-0.312},{"b":"kh2","k":1.344,"e":-0.341},{"b":"kh2","k":1.394,"e":-0.421},
{"b":"kh3","k":1.280,"e":-0.770},{"b":"kh3","k":1.304,"e":-0.785},{"b":"kh3","k":1.327,"e":-0.770},{"b":"kh3","k":1.360,"e":-0.683},{"b":"kh3","k":1.394,"e":-0.581},
{"b":"kh4","k":1.280,"e":-1.395},{"b":"kh4","k":1.327,"e":-1.409},{"b":"kh4","k":1.360,"e":-1.402},{"b":"kh4","k":1.394,"e":-1.387},
{"b":"kh5","k":1.280,"e":-1.518},{"b":"kh5","k":1.327,"e":-1.555},{"b":"kh5","k":1.354,"e":-1.598},{"b":"kh5","k":1.394,"e":-1.627},
{"b":"kh6","k":1.280,"e":-1.547},{"b":"kh6","k":1.327,"e":-1.569},{"b":"kh6","k":1.357,"e":-1.613},{"b":"kh6","k":1.394,"e":-1.642},
{"b":"kh7","k":1.280,"e":-1.903},{"b":"kh7","k":1.327,"e":-1.954},{"b":"kh7","k":1.360,"e":-1.947},{"b":"kh7","k":1.394,"e":-1.918},
{"b":"kh8","k":1.280,"e":-2.216},{"b":"kh8","k":1.327,"e":-2.223},{"b":"kh8","k":1.360,"e":-2.201},{"b":"kh8","k":1.394,"e":-2.201},
{"b":"kh9","k":1.280,"e":-2.274},{"b":"kh9","k":1.320,"e":-2.237},{"b":"kh9","k":1.340,"e":-2.216},{"b":"kh9","k":1.360,"e":-2.237},{"b":"kh9","k":1.394,"e":-2.252},
{"b":"kh10","k":1.280,"e":-2.310},{"b":"kh10","k":1.320,"e":-2.259},{"b":"kh10","k":1.360,"e":-2.245},{"b":"kh10","k":1.394,"e":-2.259},
{"b":"kh11","k":1.280,"e":-3.559},{"b":"kh11","k":1.304,"e":-3.567},{"b":"kh11","k":1.344,"e":-3.530},{"b":"kh11","k":1.394,"e":-3.479},
{"b":"kh12","k":1.280,"e":-3.952},{"b":"kh12","k":1.327,"e":-3.981},{"b":"kh12","k":1.360,"e":-4.017},{"b":"kh12","k":1.394,"e":-4.075},
{"b":"kh13","k":1.280,"e":-3.988},{"b":"kh13","k":1.327,"e":-4.003},{"b":"kh13","k":1.360,"e":-4.039},{"b":"kh13","k":1.394,"e":-4.090},
{"b":"kh14","k":1.280,"e":-4.068},{"b":"kh14","k":1.327,"e":-4.075},{"b":"kh14","k":1.394,"e":-4.119},
{"b":"kh15","k":1.280,"e":-4.475},{"b":"kh15","k":1.310,"e":-4.584},{"b":"kh15","k":1.344,"e":-4.642},{"b":"kh15","k":1.367,"e":-4.678},{"b":"kh15","k":1.394,"e":-4.642},
{"b":"kh16","k":1.280,"e":-4.489},{"b":"kh16","k":1.310,"e":-4.598},{"b":"kh16","k":1.344,"e":-4.664},{"b":"kh16","k":1.367,"e":-4.693},{"b":"kh16","k":1.394,"e":-4.656},
{"b":"kh17","k":1.280,"e":-4.642},{"b":"kh17","k":1.304,"e":-4.598},{"b":"kh17","k":1.327,"e":-4.606},{"b":"kh17","k":1.360,"e":-4.729},{"b":"kh17","k":1.394,"e":-4.853}
],
"jumps":[
{"k":1.167,"e1":-0.182,"e2":-0.283},{"k":1.167,"e1":-0.218,"e2":-0.436},{"k":1.167,"e1":-0.574,"e2":-0.712},{"k":1.167,"e1":-1.002,"e2":-2.884},{"k":1.167,"e1":-3.291,"e2":-3.806},{"k":1.167,"e1":-4.112,"e2":-4.380},{"k":1.167,"e1":-4.823,"e2":-5.06},{"k":1.167,"e1":1.947,"e2":2.317},
{"k":1.280,"e1":-0.247,"e2":-0.305},{"k":1.280,"e1":-0.320,"e2":-0.421},{"k":1.280,"e1":-0.683,"e2":-2.579},{"k":1.280,"e1":-3.407,"e2":-3.559},{"k":1.280,"e1":-3.836,"e2":-3.952},{"k":1.280,"e1":-3.988,"e2":-4.053},{"k":1.280,"e1":-4.068,"e2":-4.184},{"k":1.280,"e1":-4.214,"e2":-4.489},{"k":1.280,"e1":-4.642,"e2":-4.823},{"k":1.280,"e1":-4.853,"e2":-5.06},{"k":1.280,"e1":1.576,"e2":1.910}
]
},
"resolve":{"axis":{"x":"independent","y":"independent"}},
"layer":[
{
"data":{"values":[{"k0":0,"k1":1.3935,"e":0}]},
"mark":{"type":"rule","color":"#56b4e9","strokeWidth":1.7},
"encoding":{
"x":{"field":"k0","type":"quantitative","scale":{"domain":[0,1.3935],"nice":false,"zero":false},
"axis":{"orient":"bottom","values":[0,0.1935,0.3045,0.5273,0.64,0.8335,0.9443,1.151,1.181,1.265,1.293,1.3935],
"labelExpr":"datum.value < 0.1 ? 'Γ' : datum.value < 0.25 ? 'M' : datum.value < 0.4 ? 'K' : datum.value < 0.58 ? 'Γ' : datum.value < 0.7 ? 'A' : datum.value < 0.9 ? 'L' : datum.value < 1.0 ? 'H' : datum.value < 1.16 ? 'A' : datum.value < 1.2 ? 'L' : datum.value < 1.28 ? 'M' : datum.value < 1.3 ? 'K' : 'H'",
"title":null,"domain":false,"ticks":false,"tickSize":0,"grid":false,"labelPadding":18,"labelFontSize":19,
"labelFont":{"condition":{"test":"datum.value < 0.01 || abs(datum.value - 0.5273) < 0.01","value":"Liberation Serif"},"value":"Liberation Sans"},
"labelColor":"#000000","labelFlush":false,"labelOverlap":false,"labelBound":false}},
"x2":{"field":"k1"},
"y":{"field":"e","type":"quantitative","scale":{"domain":[-5,2],"nice":false,"zero":false},
"axis":{"orient":"left","values":[-5,-4,-3,-2,-1,0,1,2],"labelExpr":"'' + datum.value","title":null,"domain":false,"ticks":false,"tickSize":0,"grid":false,"labelPadding":18,"labelFontSize":19,"labelFont":"Liberation Sans","labelColor":"#000000","labelFlush":false,"labelOverlap":false,"labelBound":false}}
}
},
{
"data":{"name":"bands"},
"mark":{"type":"line","color":"#000000","strokeWidth":1.7,"interpolate":"monotone","clip":true},
"encoding":{
"x":{"field":"k","type":"quantitative","scale":{"domain":[0,1.3935],"nice":false,"zero":false},
"axis":{"orient":"bottom","values":[0.1935,0.3045,0.5273,0.64,0.8335,0.9443,1.167,1.28],"labels":false,"title":null,"domain":false,"ticks":true,"tickSize":-10,"tickWidth":1.7,"tickColor":"#000000","grid":true,"gridColor":"#a0a0a0","gridDash":[3,4],"gridWidth":1}},
"y":{"field":"e","type":"quantitative","scale":{"domain":[-5,2],"nice":false,"zero":false},
"axis":{"orient":"left","values":[-4,-3,-2,-1,0,1],"labels":false,"title":null,"domain":false,"ticks":true,"tickSize":-10,"tickWidth":1.7,"tickColor":"#000000","grid":false}},
"detail":{"field":"b","type":"nominal"}
}
},
{
"data":{"name":"jumps"},
"mark":{"type":"rule","color":"#000000","strokeWidth":1.7,"clip":true},
"encoding":{
"x":{"field":"k","type":"quantitative","scale":{"domain":[0,1.3935],"nice":false,"zero":false},
"axis":{"orient":"top","values":[0.1935,0.3045,0.5273,0.64,0.8335,0.9443,1.167,1.28],"labels":false,"title":null,"domain":false,"ticks":true,"tickSize":-10,"tickWidth":1.7,"tickColor":"#000000","grid":false}},
"y":{"field":"e1","type":"quantitative","scale":{"domain":[-5,2],"nice":false,"zero":false},
"axis":{"orient":"right","values":[-4,-3,-2,-1,0,1],"labels":false,"title":null,"domain":false,"ticks":true,"tickSize":-10,"tickWidth":1.7,"tickColor":"#000000","grid":false}},
"y2":{"field":"e2"}
}
}
]
}
